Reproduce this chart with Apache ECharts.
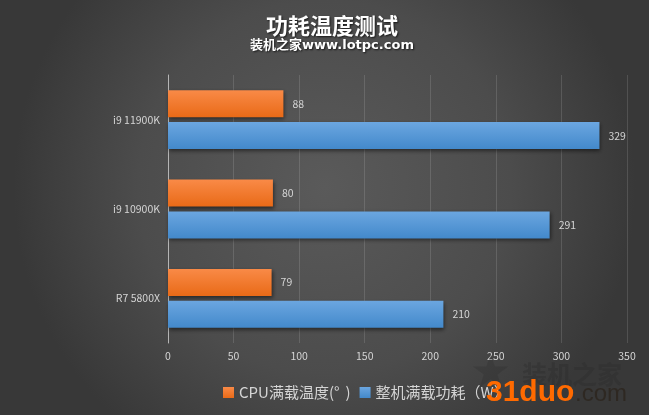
<!DOCTYPE html>
<html><head><meta charset="utf-8">
<style>html,body{margin:0;padding:0;background:#444}#c{width:649px;height:415px}</style>
<script src="https://cdn.jsdelivr.net/npm/echarts@6/dist/echarts.min.js"></script>
</head><body><div id="c"></div>
<script>
const categories = ['i9 11900K','i9 10900K','R7 5800X'];
const tempName = 'CPU满载温度(°\u2009\u2009)';
const powerName = '整机满载功耗（W）';
const tempValues = [88,80,79];
const powerValues = [329,291,210];
const xTicks = [0,50,100,150,200,250,300,350];
const font = '"Noto Sans CJK SC","Noto Sans",sans-serif';
const grad = (a,b)=>new echarts.graphic.LinearGradient(0,0,0,1,[{offset:0,color:a},{offset:1,color:b}]);
const barStyle = (a,b)=>({color:grad(a,b),shadowColor:'rgba(0,0,0,0.5)',shadowBlur:4,shadowOffsetX:1,shadowOffsetY:2});
const label = {show:true,position:'right',distance:9,color:'#d4d4d4',fontSize:10.5,fontFamily:font};
const chart = echarts.init(document.getElementById('c'),null,{renderer:'canvas'});
chart.setOption({
  animation:false,
  backgroundColor:new echarts.graphic.RadialGradient(0.5,0.45,0.75,[{offset:0,color:'#5a5a5a'},{offset:0.6,color:'#4c4c4c'},{offset:1,color:'#383838'}]),
  title:{text:'功耗温度测试',subtext:'装机之家www.lotpc.com',left:327,textAlign:'center',top:10,itemGap:2,
    textStyle:{color:'#fff',fontSize:22,fontWeight:'bold',fontFamily:font,textShadowColor:'rgba(0,0,0,0.7)',textShadowBlur:2,textShadowOffsetX:1,textShadowOffsetY:1},
    subtextStyle:{color:'#fff',fontSize:13,fontWeight:'bold',fontFamily:'"DejaVu Sans","Noto Sans CJK SC",sans-serif',textShadowColor:'rgba(0,0,0,0.7)',textShadowBlur:2,textShadowOffsetX:1,textShadowOffsetY:1}},
  grid:{left:168,right:22,top:75,bottom:72},
  legend:{left:218,top:380,itemWidth:11,itemHeight:11,itemGap:9,
    textStyle:{color:'#d4d4d4',fontSize:15,fontFamily:font,padding:[0,0,0,0]},
    data:[{name:tempName,icon:'rect'},{name:powerName,icon:'rect'}]},
  xAxis:{type:'value',min:0,max:350,interval:50,
    axisLine:{show:false},axisTick:{show:false},
    splitLine:{lineStyle:{color:'rgba(255,255,255,0.13)',width:1}},
    axisLabel:{color:'#d4d4d4',fontSize:10.5,margin:8,fontFamily:font,
      formatter:v=>xTicks.includes(v)?String(v):''}},
  yAxis:{type:'category',inverse:true,data:categories,
    axisLine:{lineStyle:{color:'#b5b5b5',width:1}},axisTick:{show:false},
    axisLabel:{color:'#d4d4d4',fontSize:10.5,margin:8,fontFamily:font}},
  series:[
    {name:tempName,type:'bar',data:tempValues,barWidth:27,barGap:'18%',label,
      itemStyle:barStyle('#f98a47','#e96a17')},
    {name:powerName,type:'bar',data:powerValues,barWidth:27,barGap:'18%',label,
      itemStyle:barStyle('#6ba6e0','#4389cb')}
  ],
  graphic:[
    {type:'text',left:470,top:352,z:9,style:{text:'★',fill:'rgba(40,40,40,0.25)',font:'46px "DejaVu Sans",sans-serif'}},
    {type:'text',left:522,top:362,z:9,style:{text:'装机之家',fill:'rgba(40,40,40,0.3)',font:'bold 25px "Noto Sans CJK SC",sans-serif'}},
    {type:'text',left:486,top:378,z:10,style:{text:'31duo',fill:'#ff6a00',font:'bold 30px "Liberation Sans",sans-serif'}},
    {type:'text',left:575,top:382,z:10,style:{text:'.com',fill:'rgba(40,30,20,0.6)',font:'24px "Liberation Sans",sans-serif'}}
  ]
});
</script></body></html>
